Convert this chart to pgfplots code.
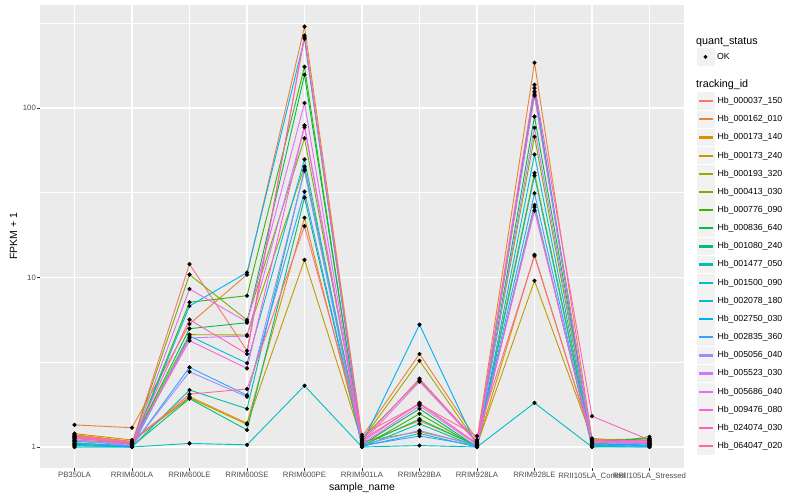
\documentclass[border=0pt]{standalone}
\usepackage{fontspec}
\setmainfont{Liberation Sans}
\usepackage{pgfplots}
\usepackage{pgfplotstable}
\pgfplotsset{compat=1.18}
\definecolor{panelbg}{HTML}{EBEBEB}
\definecolor{keybg}{HTML}{F2F2F2}
\definecolor{ticklab}{HTML}{4D4D4D}
\definecolor{tickcol}{HTML}{333333}
\definecolor{sera}{HTML}{F8766D}
\definecolor{serb}{HTML}{EA8331}
\definecolor{serc}{HTML}{D89000}
\definecolor{serd}{HTML}{C09B00}
\definecolor{sere}{HTML}{A3A500}
\definecolor{serf}{HTML}{7CAE00}
\definecolor{serg}{HTML}{39B600}
\definecolor{serh}{HTML}{00BB4E}
\definecolor{seri}{HTML}{00BF7D}
\definecolor{serj}{HTML}{00C1A3}
\definecolor{serk}{HTML}{00BFC4}
\definecolor{serl}{HTML}{00BAE0}
\definecolor{serm}{HTML}{00B0F6}
\definecolor{sern}{HTML}{35A2FF}
\definecolor{sero}{HTML}{9590FF}
\definecolor{serp}{HTML}{C77CFF}
\definecolor{serq}{HTML}{E76BF3}
\definecolor{serr}{HTML}{FA62DB}
\definecolor{sers}{HTML}{FF62BC}
\definecolor{sert}{HTML}{FF6C91}
\pgfplotstableread{
x sa sb sc sd se sf sg sh si sj sk sl sm sn so sp sq sr ss st
1 1.15 1.35 1.20 1.18 1.12 1.10 1.05 1.08 1.03 1.00 1.00 1.02 1.04 1.06 1.09 1.10 1.14 1.13 1.16 1.17
2 1.05 1.30 1.10 1.08 1.06 1.05 1.02 1.04 1.01 1.00 1.00 1.00 1.00 1.01 1.02 1.03 1.04 1.05 1.06 1.07
3 12.0 5.32 1.98 1.95 4.60 10.4 7.14 4.99 1.93 2.17 1.05 4.52 6.79 2.95 2.78 4.40 8.55 4.24 5.64 2.05
4 3.70 10.4 1.38 1.36 4.58 5.61 7.81 5.41 1.26 1.68 1.03 3.12 10.7 2.02 1.98 4.52 5.48 2.91 3.54 2.20
5 262 302 22.5 12.7 45.1 66.3 175 157 29.6 43.5 2.30 49.8 256 32.1 42.7 77.0 107 79.0 268 20.1
6 1.10 1.15 1.05 1.08 1.10 1.12 1.00 1.03 1.02 1.00 1.00 1.01 1.05 1.02 1.03 1.04 1.06 1.07 1.09 1.18
7 1.80 3.54 1.43 1.23 3.23 2.48 1.57 1.68 1.46 1.37 1.02 1.20 5.27 1.16 1.25 1.75 2.43 1.82 2.53 1.79
8 1.05 1.10 1.02 1.03 1.05 1.08 1.00 1.00 1.01 1.00 1.00 1.00 1.00 1.02 1.02 1.03 1.06 1.04 1.07 1.16
9 125 185 13.6 9.57 41.4 67.7 121 89.0 26.8 39.9 1.82 53.2 131 31.4 26.0 76.5 118 24.8 137 13.4
10 1.05 1.12 1.10 1.12 1.05 1.05 1.02 1.08 1.00 1.01 1.00 1.03 1.04 1.02 1.06 1.07 1.09 1.08 1.52 1.10
11 1.10 1.05 1.12 1.08 1.02 1.10 1.15 1.12 1.06 1.00 1.00 1.02 1.03 1.01 1.04 1.05 1.07 1.06 1.10 1.09
}\data
\begin{document}
\begin{tikzpicture}
\useasboundingbox (0,0) rectangle (800bp,500bp);
\begin{axis}[
  at={(40bp,32bp)}, anchor=south west,
  scale only axis, width=644bp, height=463bp,
  ymode=log, log basis y=10,
  xmin=0.4, xmax=11.6, ymin=0.7518, ymax=405.3,
  xtick={1,...,11},
  xticklabels={PB350LA,RRIM600LA,RRIM600LE,RRIM600SE,RRIM600PE,RRIM901LA,RRIM928BA,RRIM928LA,RRIM928LE,RRII105LA\_Control,RRII105LA\_Stressed},
  ytick={1,10,100}, yticklabels={1,10,100},
  minor ytick={3.1623,31.623,316.23},
  minor xtick={},
  grid=both,
  major grid style={draw=white, line width=1.1bp},
  minor grid style={draw=white, line width=0.55bp},
  axis background/.style={fill=panelbg},
  axis line style={draw=none},
  tick align=outside, xtick pos=bottom, ytick pos=left,
  major tick length=2.75bp, minor tick length=0bp,
  tick style={draw=tickcol, line width=0.6bp},
  /pgf/number format/assume math mode=true,
  ticklabel style={font=\fontsize{7.8}{9}\selectfont, text=ticklab},
  xticklabel style={inner sep=1.5bp},
  yticklabel style={inner sep=1.2bp},
  xlabel={sample\_name}, ylabel={FPKM + 1},
  label style={font=\fontsize{10.5}{12}\selectfont},
  xlabel style={at={(axis description cs:0.5,0)}, anchor=base, yshift=-22bp},
  ylabel style={at={(axis description cs:0,0.5)}, anchor=base, rotate=0, yshift=23bp},
  legend style={at={(axis description cs:1.0202,0.8113)}, anchor=north west,
    draw=none, fill=none, inner sep=0pt, outer sep=0pt, row sep=0.66bp,
    font=\fontsize{8.8}{10}\selectfont, cells={anchor=west},
    nodes={inner sep=0pt, inner xsep=3bp}},
  legend cell align=left,
]
\pgfplotsinvokeforeach{a,b,c,d,e,f,g,h,i,j,k,l,m,n,o,p,q,r,s,t}{
  \addplot[draw=ser#1, line width=0.9bp,
    legend image code/.code={
      \fill[keybg] (0bp,-8.3bp) rectangle (16.6bp,8.3bp);
      \fill[fill=ser#1] (1.5bp,-0.65bp) rectangle (15.1bp,0.65bp);
    }] table[x=x, y=s#1]{\data};
}
\legend{Hb\_000037\_150,Hb\_000162\_010,Hb\_000173\_140,Hb\_000173\_240,Hb\_000193\_320,Hb\_000413\_030,Hb\_000776\_090,Hb\_000836\_640,Hb\_001080\_240,Hb\_001477\_050,Hb\_001500\_090,Hb\_002078\_180,Hb\_002750\_030,Hb\_002835\_360,Hb\_005056\_040,Hb\_005523\_030,Hb\_005686\_040,Hb\_009476\_080,Hb\_024074\_030,Hb\_064047\_020}
\pgfplotsinvokeforeach{a,b,c,d,e,f,g,h,i,j,k,l,m,n,o,p,q,r,s,t}{
  \addplot[only marks, mark=*, mark size=1.9bp, draw=black, fill=black, forget plot] table[x=x, y=s#1]{\data};
}
\end{axis}
\begin{axis}[
  at={(40bp,32bp)}, anchor=south west,
  scale only axis, width=644bp, height=463bp,
  hide axis, xmin=0, xmax=1, ymin=0, ymax=1,
  legend image code/.code={
    \fill[keybg] (0bp,-8.3bp) rectangle (16.6bp,8.3bp);
    \fill[black] (8.3bp,0bp) circle (1.8bp);
  },
  legend style={at={(axis description cs:1.0202,0.9063)}, anchor=north west,
    draw=none, fill=none, inner sep=0pt, outer sep=0pt,
    font=\fontsize{8.8}{10}\selectfont, cells={anchor=west},
    nodes={inner sep=0pt, inner xsep=3bp}},
]
\addlegendimage{only marks, mark=*, black}
\addlegendentry{OK}
\end{axis}
\node[anchor=base west, inner sep=0pt, font=\fontsize{10.8}{12}\selectfont] at (696bp,455bp) {quant\_status};
\node[anchor=base west, inner sep=0pt, font=\fontsize{10.8}{12}\selectfont] at (696bp,412bp) {tracking\_id};
\end{tikzpicture}
\end{document}
